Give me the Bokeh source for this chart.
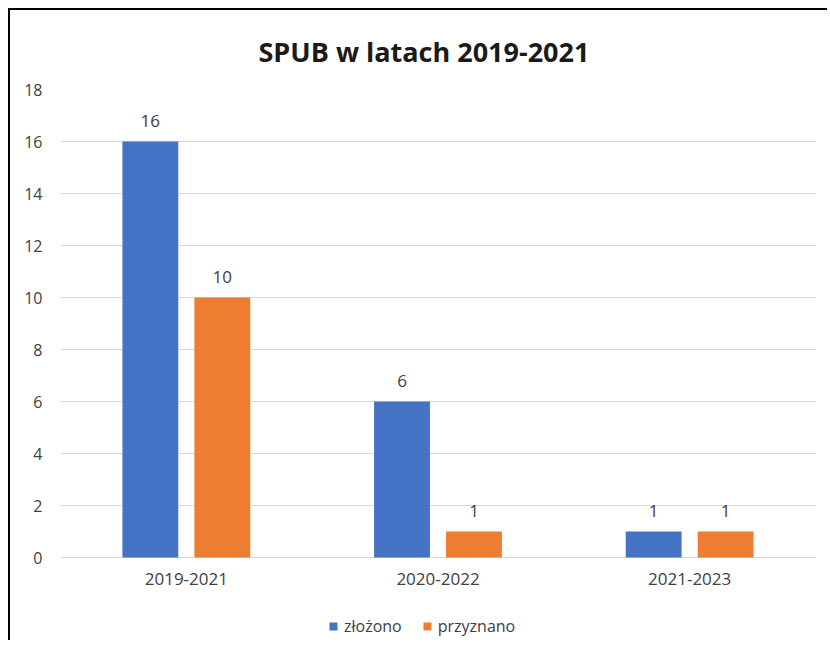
from bokeh.plotting import figure
from bokeh.models import ColumnDataSource, FactorRange, Legend, LegendItem, FixedTicker, Range1d
from bokeh.transform import dodge
from bokeh.core.properties import value
from bokeh.embed import file_html
from bokeh.resources import INLINE

title_text = "SPUB w latach 2019-2021"
categories = ["2019-2021", "2020-2022", "2021-2023"]
series_names = ["złożono", "przyznano"]
zlozono = [16, 6, 1]
przyznano = [10, 1, 1]
y_ticks = [0, 2, 4, 6, 8, 10, 12, 14, 16, 18]
y_max = 18

colors = ["#4472C4", "#ED7D31"]
FONT = "Open Sans"

src = ColumnDataSource(dict(
    cat=categories,
    zl=zlozono,
    pr=przyznano,
    base=[0] * len(categories),
    zl_txt=[str(v) for v in zlozono],
    pr_txt=[str(v) for v in przyznano],
))

# frame extends below the zero line so that category labels and legend sit inside it
px_per_unit = 468 / y_max
below_px = 83
p = figure(x_range=FactorRange(*categories, range_padding=0.0),
           y_range=Range1d(-below_px / px_per_unit, y_max),
           output_backend="svg", toolbar_location=None,
           frame_width=755, frame_height=468 + below_px)
p.min_border_left = 50
p.min_border_right = 12
p.min_border_top = 79
p.min_border_bottom = 0
p.x_range.factor_padding = 0.0
p.x_range.group_padding = 0.0

off = 0.143
w = 0.222
r1 = p.vbar(x=dodge("cat", -off, range=p.x_range), top="zl", bottom=0, width=w, source=src,
            fill_color=colors[0], line_color=None)
r2 = p.vbar(x=dodge("cat", off, range=p.x_range), top="pr", bottom=0, width=w, source=src,
            fill_color=colors[1], line_color=None)

for col, txt, o in (("zl", "zl_txt", -off), ("pr", "pr_txt", off)):
    p.text(x=dodge("cat", o, range=p.x_range), y=col, text=txt, source=src,
           text_align="center", text_baseline="bottom", y_offset=-15,
           text_font=value(FONT), text_font_size="17px", text_color="#404040")

# category labels under the zero line
p.text(x="cat", y="base", text="cat", source=src,
       text_align="center", text_baseline="middle", y_offset=21,
       text_font=value(FONT), text_font_size="17px", text_color="#404040")

# title
p.title.text = title_text
p.title.align = "left"
p.title.offset = 198
p.title.text_font = FONT
p.title.text_font_size = "27px"
p.title.text_font_style = "bold"
p.title.text_color = "#1a1a1a"
p.title.standoff = 40

# axes
p.yaxis.ticker = FixedTicker(ticks=y_ticks)
p.yaxis.axis_line_color = None
p.yaxis.major_tick_line_color = None
p.yaxis.minor_tick_line_color = None
p.yaxis.major_label_text_font = FONT
p.yaxis.major_label_text_font_size = "16px"
p.yaxis.major_label_text_color = "#404040"
p.yaxis.major_label_standoff = 12
p.xaxis.visible = False

p.xgrid.grid_line_color = None
p.ygrid.grid_line_color = "#d9d9d9"
p.ygrid.grid_line_width = 1
p.ygrid.ticker = FixedTicker(ticks=y_ticks)
p.outline_line_color = None

legend = Legend(items=[LegendItem(label=series_names[0], renderers=[r1]),
                       LegendItem(label=series_names[1], renderers=[r2])],
                orientation="horizontal", location=(268, 3),
                label_text_font=FONT, label_text_font_size="16px",
                label_text_color="#404040",
                glyph_width=10, glyph_height=10, spacing=20, label_standoff=6,
                border_line_color=None, background_fill_alpha=0,
                margin=0, padding=0)
p.add_layout(legend, "center")

p.styles = {"margin-left": "8px", "margin-top": "8px",
            "border-left": "2px solid black", "border-top": "2px solid black"}

open("out.html", "w").write(file_html(p, INLINE))
